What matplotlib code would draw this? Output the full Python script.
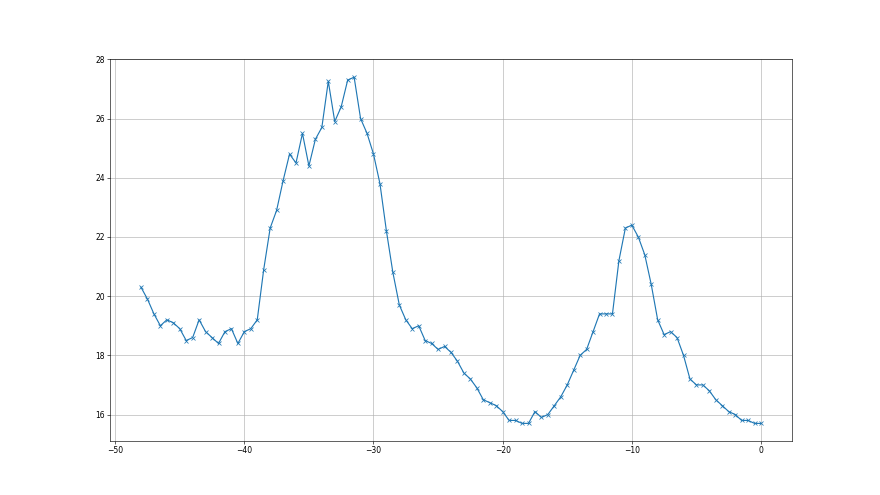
import matplotlib
matplotlib.use("Agg")
import matplotlib.pyplot as plt

x = [-48, -47.5, -47, -46.5, -46, -45.5, -45, -44.5, -44, -43.5,
     -43, -42.5, -42, -41.5, -41, -40.5, -40, -39.5, -39, -38.5,
     -38, -37.5, -37, -36.5, -36, -35.5, -35, -34.5, -34, -33.5,
     -33, -32.5, -32, -31.5, -31, -30.5, -30, -29.5, -29, -28.5,
     -28, -27.5, -27, -26.5, -26, -25.5, -25, -24.5, -24, -23.5,
     -23, -22.5, -22, -21.5, -21, -20.5, -20, -19.5, -19, -18.5,
     -18, -17.5, -17, -16.5, -16, -15.5, -15, -14.5, -14, -13.5,
     -13, -12.5, -12, -11.5, -11, -10.5, -10, -9.5, -9, -8.5,
     -8, -7.5, -7, -6.5, -6, -5.5, -5, -4.5, -4, -3.5,
     -3, -2.5, -2, -1.5, -1, -0.5, 0]

y = [20.3, 19.9, 19.4, 19.0, 19.2, 19.1, 18.9, 18.5, 18.6, 19.2,
     18.8, 18.6, 18.4, 18.8, 18.9, 18.4, 18.8, 18.9, 19.2, 20.9,
     22.3, 22.9, 23.9, 24.8, 24.5, 25.5, 24.4, 25.3, 25.7, 27.26,
     25.9, 26.4, 27.3, 27.4, 26.0, 25.5, 24.8, 23.8, 22.2, 20.8,
     19.7, 19.2, 18.9, 19.0, 18.5, 18.4, 18.2, 18.3, 18.1, 17.8,
     17.4, 17.2, 16.9, 16.5, 16.4, 16.3, 16.1, 15.8, 15.8, 15.7,
     15.7, 16.1, 15.9, 16.0, 16.3, 16.6, 17.0, 17.5, 18.0, 18.2,
     18.8, 19.4, 19.4, 19.4, 21.2, 22.3, 22.4, 22.0, 21.4, 20.4,
     19.2, 18.7, 18.8, 18.6, 18.0, 17.2, 17.0, 17.0, 16.8, 16.5,
     16.3, 16.1, 16.0, 15.8, 15.8, 15.7, 15.7]

plt.figure(figsize=(16, 9), dpi=55)
plt.plot(x, y, marker='x')
plt.ylim(15.12, 28.0)
plt.grid(True)
plt.savefig('out.png', dpi=55)
